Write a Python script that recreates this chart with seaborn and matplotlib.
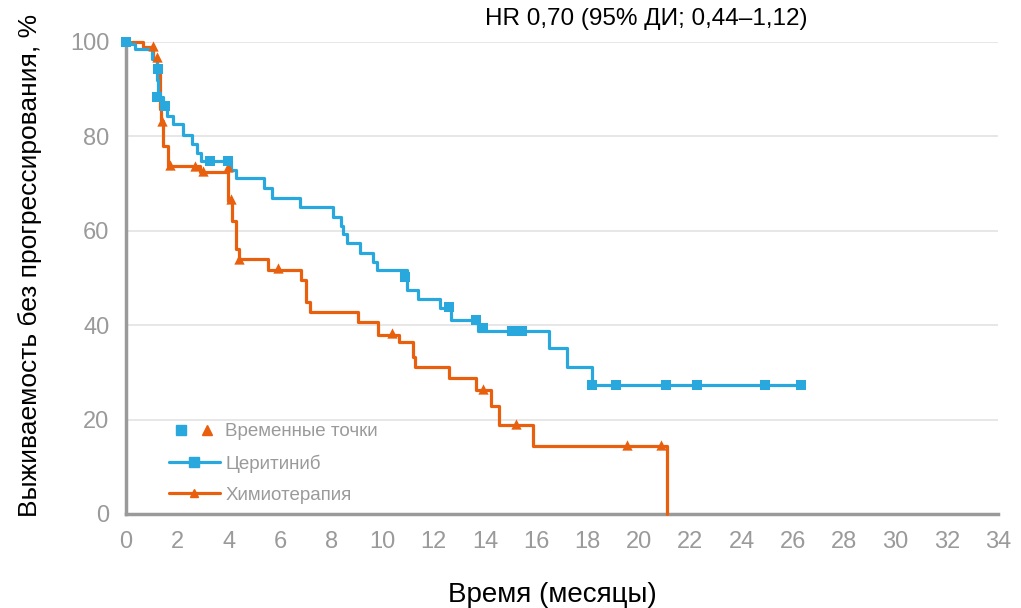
import matplotlib
matplotlib.use("Agg")
import matplotlib.pyplot as plt
import seaborn as sns
import pandas as pd
from matplotlib import font_manager
from matplotlib.lines import Line2D
from matplotlib.legend_handler import HandlerTuple

# Kaplan-Meier steps (months, % PFS)
cer_time = [0, 0.16, 0.35, 1.0, 1.2, 1.25, 1.45, 1.6, 1.84, 2.23, 2.56, 2.75, 2.92,
            4.1, 4.3, 5.39, 5.68, 6.78, 8.08, 8.37, 8.47, 8.6, 9.12, 9.62, 9.77,
            10.97, 11.4, 12.24, 12.66, 13.72, 16.5, 17.18, 18.18, 26.32]
cer_surv = [100, 99.5, 98.5, 96.5, 92.0, 88.3, 86.4, 84.3, 82.6, 80.3, 78.4, 76.5, 74.7,
            72.8, 71.2, 69.1, 66.9, 65.0, 62.9, 61.0, 59.3, 57.4, 55.3, 53.4, 51.7,
            47.5, 45.6, 43.6, 41.1, 38.8, 35.2, 31.1, 27.3, 27.3]

chemo_time = [0, 0.67, 1.06, 1.2, 1.33, 1.38, 1.45, 1.65, 2.89, 3.99, 4.15, 4.29, 4.42,
              5.52, 6.82, 7.0, 7.17, 9.06, 9.84, 10.64, 11.2, 11.27, 12.6, 13.65,
              14.22, 14.54, 15.88, 21.1]
chemo_surv = [100, 98.9, 96.7, 93.5, 85.7, 83.3, 78.0, 73.7, 72.5, 66.3, 62.1, 56.1, 54.0,
              51.8, 49.6, 44.9, 42.9, 40.7, 37.9, 36.4, 33.3, 31.2, 28.8, 26.2,
              22.9, 18.8, 14.4, 0]

# censoring marks
cer_cens_time = [0, 1.25, 1.2, 1.52, 3.27, 3.98, 10.88, 12.6, 13.65, 13.93, 15.05, 15.45,
                 18.18, 19.1, 21.05, 22.26, 24.91, 26.32]
cer_cens_surv = [100, 94.3, 88.3, 86.4, 74.7, 74.7, 50.2, 43.8, 41.1, 39.4, 38.8, 38.8,
                 27.3, 27.3, 27.3, 27.3, 27.3, 27.3]
chemo_cens_time = [1.05, 1.21, 1.4, 1.72, 2.69, 3.0, 3.98, 4.08, 4.4, 5.93, 10.37,
                   13.92, 15.2, 19.53, 20.86]
chemo_cens_surv = [99.1, 96.8, 83.3, 74.0, 73.7, 72.6, 73.5, 66.7, 54.0, 52.2, 38.3,
                   26.5, 19.1, 14.6, 14.6]

arms = ["Церитиниб", "Химиотерапия"]
x_ticks = list(range(0, 35, 2))
y_ticks = [0, 20, 40, 60, 80, 100]

blue = "#29a8de"
orange = "#e8600e"
grey = "#9a9a9a"

sns.set_style("white")
plt.rcParams["font.family"] = ["Liberation Sans", "DejaVu Sans"]
names = {f.name for f in font_manager.fontManager.ttflist}
tick_font = "Liberation Sans Narrow" if "Liberation Sans Narrow" in names else "Liberation Sans"

curves = pd.concat([
    pd.DataFrame({"t": cer_time, "s": cer_surv, "arm": arms[0]}),
    pd.DataFrame({"t": chemo_time, "s": chemo_surv, "arm": arms[1]}),
])
cens = pd.concat([
    pd.DataFrame({"t": cer_cens_time, "s": cer_cens_surv, "arm": arms[0]}),
    pd.DataFrame({"t": chemo_cens_time, "s": chemo_cens_surv, "arm": arms[1]}),
])

fig = plt.figure(figsize=(10.21, 6.08), dpi=100)
ax = fig.add_axes([126 / 1021, 1 - 514 / 608, (998 - 126) / 1021, (514 - 42) / 608])

for arm, col, mk in [(arms[1], orange, "^"), (arms[0], blue, "s")]:
    d = curves[curves["arm"] == arm]
    sns.lineplot(data=d, x="t", y="s", ax=ax, color=col, lw=2.3, estimator=None,
                 sort=False, drawstyle="steps-post", clip_on=False, zorder=3)
    c = cens[cens["arm"] == arm]
    sns.scatterplot(data=c, x="t", y="s", ax=ax, color=col, marker=mk, s=55,
                    linewidth=0, clip_on=False, zorder=4)

ax.set_xlim(0, 34)
ax.set_ylim(0, 100)
ax.set_xticks(x_ticks)
ax.set_yticks(y_ticks)
ax.grid(axis="y", color="#e3e3e3", lw=1.2)
ax.set_axisbelow(True)
for side in ["top", "right"]:
    ax.spines[side].set_visible(False)
for side in ["left", "bottom"]:
    ax.spines[side].set_color(grey)
    ax.spines[side].set_linewidth(2.5)
ax.tick_params(axis="x", length=8, width=1, color="#d5d5d5", pad=4,
               labelcolor=grey, labelsize=17)
ax.tick_params(axis="y", length=0, pad=12, labelcolor=grey, labelsize=17)
for lab in ax.get_xticklabels() + ax.get_yticklabels():
    lab.set_fontfamily(tick_font)

ax.set_xlabel("Время (месяцы)", fontsize=20, color="black")
ax.xaxis.set_label_coords((552 - 126) / 872, -(595 - 514) / 472)
ax.xaxis.label.set_va("center")
ax.set_ylabel("Выживаемость без прогрессирования, %", fontsize=19, color="black")
ax.yaxis.set_label_coords(-(126 - 30) / 872, (514 - 265) / 472)
ax.yaxis.label.set_va("center")

fig.text(0.633, 0.968, "HR 0,70 (95% ДИ; 0,44–1,12)", ha="center", va="center",
         fontsize=17.5, color="black")

h_pts = (Line2D([], [], ls="none", marker="s", color=blue, ms=7),
         Line2D([], [], ls="none", marker="^", color=orange, ms=7))
h_cer = Line2D([], [], color=blue, lw=2.3, marker="s", ms=7)
h_chemo = Line2D([], [], color=orange, lw=2.3, marker="^", ms=6)
ax.legend([h_pts, h_cer, h_chemo], ["Временные точки", arms[0], arms[1]],
          handler_map={tuple: HandlerTuple(ndivide=None, pad=0.05)},
          loc="upper left", bbox_to_anchor=(0.03, 0.228), frameon=False,
          fontsize=13.5, labelcolor=grey, handlelength=2.7, labelspacing=0.75,
          handletextpad=0.3)

fig.savefig("out.png", dpi=100)
